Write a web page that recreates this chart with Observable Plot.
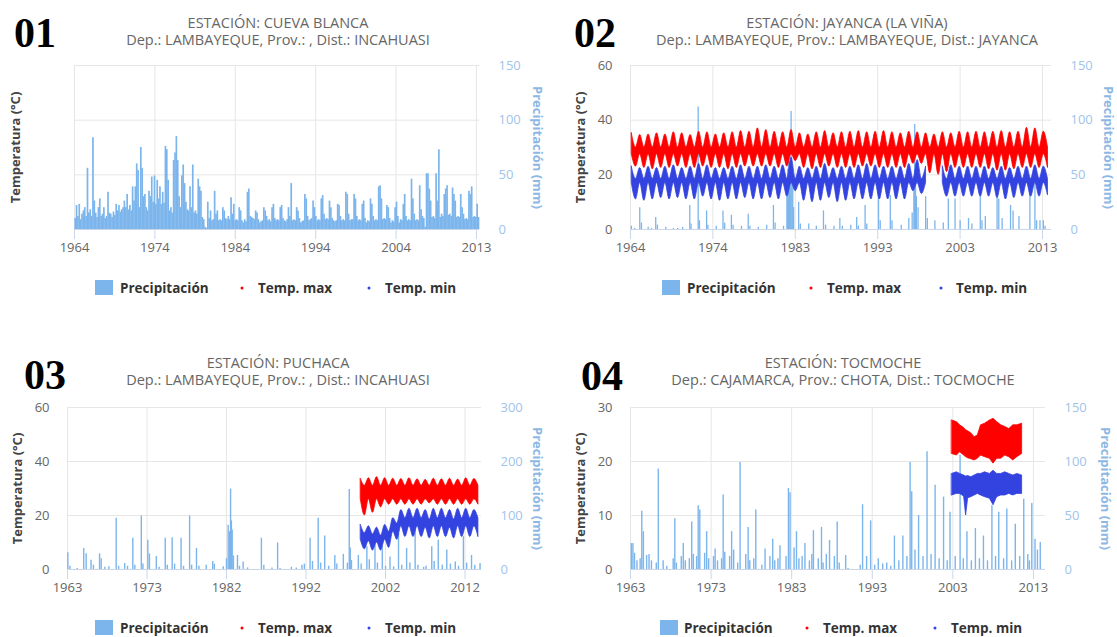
<!DOCTYPE html>
<html><head><meta charset="utf-8">
<script src="https://cdn.jsdelivr.net/npm/d3@7"></script>
<script src="https://cdn.jsdelivr.net/npm/@observablehq/plot@0.6"></script>
<style>
html,body{margin:0;padding:0;background:#fff;}
#root{position:relative;width:1117px;height:637px;overflow:hidden;font-family:"Open Sans",sans-serif;}
</style></head><body><div id="root"></div>
<script>
// ---------- texts ----------
const panelNumbers = ["01","02","03","04"];
const stationTitles = ["ESTACIÓN: CUEVA BLANCA","ESTACIÓN: JAYANCA (LA VIÑA)","ESTACIÓN: PUCHACA","ESTACIÓN: TOCMOCHE"];
const stationSubtitles = ["Dep.: LAMBAYEQUE, Prov.: , Dist.: INCAHUASI","Dep.: LAMBAYEQUE, Prov.: LAMBAYEQUE, Dist.: JAYANCA","Dep.: LAMBAYEQUE, Prov.: , Dist.: INCAHUASI","Dep.: CAJAMARCA, Prov.: CHOTA, Dist.: TOCMOCHE"];
const legendLabels = ["Precipitación","Temp. max","Temp. min"];
const tempTitle = "Temperatura (°C)";
const precipTitle = "Precipitación (mm)";

// ---------- tick labels ----------
const xLabels1 = ["1964","1974","1984","1994","2004","2013"];
const xLabels2 = ["1964","1974","1983","1993","2003","2013"];
const xLabels3 = ["1963","1973","1982","1992","2002","2012"];
const xLabels4 = ["1963","1973","1983","1993","2003","2013"];
const precipTicks1 = [0,50,100,150];
const precipTicks2 = [0,50,100,150];
const precipTicks3 = [0,100,200,300];
const precipTicks4 = [0,50,100,150];
const tempTicks2 = [0,20,40,60];
const tempTicks3 = [0,20,40,60];
const tempTicks4 = [0,10,20,30];

// ---------- 01 CUEVA BLANCA: precipitation, six readings per year from 1964 ----------
const cuevaStartYear = 1964;
const cuevaPrecip = [
[10,22,12,23,9,14],[17,20,12,56,15,18],[12,84,26,15,11,20],[28,12,14,20,10,12],[34,15,14,11,16,13],
[23,17,22,16,18,20],[26,20,32,18,22,17],[39,26,39,60,54,20],[75,56,30,32,20,17],[35,30,48,25,49,23],
[45,28,39,23,34,24],[76,73,45,17,20,15],[63,70,85,63,30,20],[49,59,42,25,18,17],[39,20,59,15,17,14],
[46,39,35,11,9,2],[1,25,10,17,8,9],[35,14,17,8,9,8],[20,17,10,9,12,9],[29,14,23,8,9,8],
[20,17,8,6,9,7],[34,37,12,11,10,9],[17,15,9,6,7,8],[20,17,12,8,9,7],[20,23,10,8,9,8],
[20,22,10,8,7,9],[20,12,42,8,9,8],[20,17,10,6,7,8],[32,28,12,8,9,10],[26,20,12,8,9,8],
[28,31,14,9,10,9],[26,20,10,8,7,8],[23,22,12,8,9,8],[34,32,14,8,9,9],[32,28,12,8,9,8],
[23,26,10,6,8,7],[28,23,12,8,9,8],[39,40,28,9,10,9],[22,20,10,6,8,7],[20,25,12,6,9,8],
[23,32,12,8,9,8],[46,28,14,8,9,8],[40,18,12,10,2,51],[51,37,26,11,12,10],[51,26,73,11,14,12],
[32,37,40,13,14,12],[38,32,26,11,12,11],[32,20,14,9,10,9],[35,32,39,11,12,11],[23,11]
];

// ---------- 02 JAYANCA ----------
const jayancaPrecip = [
[1964.1,3],[1964.5,1],[1965.1,20],[1965.3,6],[1966.1,2],[1966.5,1],[1967.0,11],[1967.2,4],[1968.2,2],[1969.1,1],
[1969.6,1],[1970.2,2],[1971.05,22],[1971.2,5],[1972.05,112],[1972.2,8],[1973.05,17],[1973.2,4],[1974.2,3],[1975.0,17],
[1975.2,6],[1976.0,13],[1976.2,4],[1977.2,3],[1978.0,14],[1978.2,3],[1979.2,2],[1980.2,4],[1981.0,22],[1981.2,6],
[1982.2,3],[1982.6,30],[1982.7,55],[1982.8,65],[1982.9,62],[1983.0,60],[1983.1,108],[1983.2,58],[1983.3,40],[1983.4,20],
[1984.0,25],[1984.2,5],[1985.2,5],[1986.1,3],[1986.95,17],[1987.2,4],[1988.2,3],[1988.9,10],[1989.2,3],[1990.2,4],
[1990.9,11],[1991.1,3],[1991.9,22],[1992.1,5],[1993.5,31],[1993.7,8],[1994.9,31],[1995.1,8],[1996.2,4],[1997.1,10],
[1997.5,15],[1997.7,45],[1997.8,96],[1997.9,60],[1998.0,30],[1998.2,20],[1999.1,30],[1999.3,10],[2000.2,8],[2001.2,6],
[2001.8,28],[2002.6,28],[2003.2,8],[2004.2,10],[2004.6,5],[2005.6,31],[2005.8,8],[2006.2,12],[2007.6,37],[2007.8,28],
[2008.2,10],[2009.2,22],[2009.5,17],[2010.2,12],[2011.5,40],[2012.1,42],[2012.3,8],[2012.7,8],[2013.1,8],[2013.3,3]
];
const jayancaStartYear = 1964;
// per year: summer top of Tmax cloud, winter bottom of Tmax cloud
const jayancaTmaxPeak = [35.2,34.6,34.8,35.2,34.8,35.6,35.2,34.6,35.8,35.6,34.8,35.2,35.6,36,35.8,37,36.4,35.8,35.6,36.4,
35.2,34.8,35.6,36,35.2,35.6,35.8,36,35.6,35.8,36,35.6,35.2,35.8,35.6,35.2,34.8,35.6,35.2,35.8,
35.6,35.8,35.6,35.8,36,35.6,35.8,37.2,37,35.8];
const jayancaTmaxTrough = [23,22.5,22,22.5,22.5,23,22.5,22.5,23,22.5,22.5,22,22.5,23,23,23,23,22.5,23,25,
22.5,22,22.5,23,22.5,22.5,22.5,23,23,22.5,22.5,22.5,22.5,24,24,20.5,20,21,22.5,22.5,
22.5,22.5,22,21.5,21.5,22,22.5,22.5,22.5,22.5];
const jayancaTmaxWinterTop = 30;
const jayancaTmaxSummerBottom = 27.5;
const jayancaTminPeak = [23,22.5,23,22.5,23,23.5,22.5,23,24,23.5,22.5,22.5,23,23.5,23,23,23.5,23,23.5,26.3,
23,22.5,23,24,22.5,23,23,23.5,24,23.5,23,23,23,24,25.4,23,null,23,23.5,23,
23,23,23,22.5,23,22.5,23,23,23.5,23];
const jayancaTminTrough = [11,10.5,11,11.5,11,11.5,11,11,12,11,10.5,11,11,11.5,11,11,11.5,11,12,14,
10.5,10,10.5,11.5,10,10.5,11,11,11,11,11,11,11,14,13,null,null,12,12,12,
12,12,12,11.5,11,11.5,12,12,12,12.5];
const jayancaTminWinterTop = 18.5;
const jayancaTminSummerBottom = 17;

// ---------- 03 PUCHACA ----------
const puchacaPrecip = [
[1963.04,31],[1963.3,6],[1964.2,2],[1965.0,39],[1965.3,29],[1965.9,17],[1966.2,8],[1966.95,29],[1967.15,20],[1967.6,4],
[1968.1,5],[1969.0,95],[1969.3,6],[1970.05,11],[1970.4,6],[1971.05,58],[1971.3,8],[1972.1,99],[1972.3,10],[1972.9,54],
[1973.1,29],[1973.95,24],[1974.3,4],[1975.05,58],[1975.3,8],[1975.9,59],[1976.2,10],[1977.0,58],[1977.3,6],[1978.05,99],
[1978.3,8],[1978.9,39],[1979.2,6],[1980.1,8],[1980.9,15],[1981.1,10],[1982.2,5],[1982.6,20],[1982.8,82],[1982.95,70],
[1983.1,149],[1983.2,90],[1983.3,73],[1983.45,25],[1983.95,26],[1984.2,6],[1984.65,14],[1985.2,3],[1986.9,58],[1987.2,8],
[1988.2,3],[1988.9,49],[1989.2,2],[1990.6,4],[1991.2,3],[1991.9,8],[1992.2,10],[1992.9,58],[1993.2,15],[1993.9,95],
[1994.2,12],[1994.7,62],[1995.2,6],[1995.95,26],[1996.2,10],[1997.0,28],[1997.5,12],[1997.73,148],[1997.85,40],[1998.0,17],
[1998.85,26],[1999.2,10],[1999.9,42],[2000.2,18],[2000.9,54],[2001.2,12],[2001.8,42],[2002.2,6],[2002.75,23],[2003.2,5],
[2003.8,67],[2004.2,8],[2004.8,39],[2005.2,12],[2005.85,79],[2006.2,8],[2006.9,4],[2007.2,6],[2007.9,42],[2008.2,15],
[2008.7,54],[2009.2,8],[2009.75,36],[2010.2,10],[2010.8,14],[2011.2,6],[2011.8,61],[2012.2,12],[2012.8,26],[2013.2,8],[2013.85,11]
];
const puchacaStartYear = 1999;
const puchacaTmaxPeak = [33.5,33.8,34.2,33.8,33.6,33.5,33.8,33.4,33.2,33.6,33.4,33.6,33.3,33.8,33.5];
const puchacaTmaxTrough = [20,21,23,24,24,24,24,24,24.5,24,24,24,24,24,24];
const puchacaTmaxWinterTop = 31;
const puchacaTmaxSummerBottom = 26;
const puchacaTminPeak = [16.5,16,15.5,16.5,19,22,22.5,22.5,22,22.5,22.5,22,22.5,22.5,22];
const puchacaTminTrough = [7.5,7,7,8,11,12,12,12,11.5,12,12,11.5,12,12,12];
const puchacaTminWinterTop = [13.5,13,12.5,14,17,19,19,19,18.5,19,19,18.5,19,19,19];
const puchacaTminSummerBottom = [11,10.5,10,11,14,16,16,16,15.5,16,16,15.5,16,16,16];

// ---------- 04 TOCMOCHE ----------
const tocmochePrecip = [
[1963.1,24],[1963.3,24],[1963.5,15],[1963.8,8],[1964.2,10],[1964.4,54],[1964.6,35],[1965.0,13],[1965.3,14],[1965.6,8],
[1966.2,6],[1966.45,93],[1967.05,8],[1967.5,3],[1968.3,10],[1968.5,47],[1968.7,6],[1969.3,12],[1969.55,24],[1969.8,8],
[1970.3,10],[1970.6,44],[1970.8,14],[1971.2,12],[1971.4,59],[1971.6,55],[1972.2,15],[1972.45,35],[1972.7,10],[1973.3,12],
[1973.5,19],[1973.8,8],[1974.3,10],[1974.5,69],[1974.7,16],[1975.3,12],[1975.55,35],[1975.8,18],[1976.3,6],[1976.6,99],
[1977.3,14],[1977.6,39],[1977.8,8],[1978.3,10],[1978.55,55],[1979.3,4],[1979.7,19],[1980.3,12],[1980.65,28],[1980.9,8],
[1981.3,10],[1981.55,22],[1982.3,12],[1982.6,75],[1982.8,71],[1983.3,20],[1983.6,35],[1983.9,10],[1984.3,12],[1984.65,24],
[1985.2,8],[1985.5,14],[1985.7,36],[1986.3,10],[1986.7,39],[1986.9,6],[1987.3,14],[1987.7,27],[1988.3,12],[1988.65,44],
[1988.9,6],[1989.7,13],[1990.0,1],[1991.5,4],[1991.8,60],[1992.3,12],[1992.8,45],[1993.3,4],[1993.75,10],[1994.3,5],
[1994.8,6],[1995.3,3],[1995.75,31],[1996.3,8],[1996.8,31],[1997.3,12],[1997.7,99],[1997.9,72],[1998.3,18],[1998.75,50],
[1999.3,12],[1999.8,109],[2000.3,14],[2000.8,78],[2001.3,10],[2001.85,67],[2002.3,8],[2002.65,53],[2003.3,12],[2003.9,106],
[2004.3,10],[2004.75,35],[2005.3,8],[2005.8,38],[2006.3,10],[2006.8,31],[2007.3,8],[2007.85,59],[2008.3,12],[2008.7,53],
[2009.3,10],[2009.7,56],[2010.3,8],[2010.75,42],[2011.3,12],[2011.8,65],[2012.3,14],[2012.5,8],[2012.8,61],[2013.2,28],
[2013.5,18],[2013.85,25]
];
const tocmocheTimes  = [2002.9,2003.5,2003.9,2004.4,2004.65,2004.9,2005.3,2005.7,2006.1,2006.5,2007.0,2007.6,2008.05,2008.5,2009.0,2009.5,2010.0,2010.5,2011.0,2011.6];
const tocmocheTmaxHi = [27.6,27.3,26.7,26.2,25.8,25.6,25.2,24.5,24.8,26.7,27.0,27.6,27.9,27.3,26.7,26.4,26.0,26.7,26.7,27.0];
const tocmocheTmaxLo = [21.4,21.1,21.7,21.1,20.8,20.6,20.4,20.2,20.5,21.1,20.8,20.5,19.6,20.5,20.5,21.1,20.8,20.2,20.8,21.4];
const tocmocheTminHi = [17.7,18.0,17.7,17.4,17.2,17.3,17.1,17.4,17.7,17.7,18.0,17.7,18.3,17.7,17.7,18.0,17.7,17.4,17.7,17.4];
const tocmocheTminLo = [13.7,14.0,14.0,13.5,10.0,13.2,13.4,13.7,14.0,13.7,13.4,13.1,11.9,13.4,13.7,13.7,14.0,13.7,14.0,14.0];

// ---------- helpers ----------
const pick = (a, i) => Array.isArray(a) ? a[i] : a;
function seasonalBand(startYear, peak, trough, winterTop, summerBottom) {
  const out = [];
  peak.forEach((p, i) => {
    const y = startYear + i, tr = trough[i];
    out.push({t: y + 0.15, hi: p == null ? NaN : p, lo: p == null ? NaN : pick(summerBottom, i)});
    out.push({t: y + 0.65, hi: tr == null ? NaN : pick(winterTop, i), lo: tr == null ? NaN : tr});
  });
  return out;
}
const explicitBand = (times, hi, lo) => times.map((t, i) => ({t, hi: hi[i], lo: lo[i]}));

const cuevaRows = [];
cuevaPrecip.forEach((vals, i) => vals.forEach((v, j) => cuevaRows.push([cuevaStartYear + i + (j + 0.5) / 6, v])));

const C = {precip: "#7cb5ec", red: "#ff0000", blue: "#3343e0", pLabel: "#9fc4ea", pTitle: "#8db8e4", grid: "#e6e6e6", axis: "#ccd6eb"};

const panels = [
  {left:0, top:0, width:558, height:300, mL:74, mR:79, mT:65, mB:71, x0:1964, x1:2013.37, tFirst:1964, tLast:2013,
   xLabels:xLabels1, yMax:150, pMax:150, pTicks:precipTicks1, tTicks:null, tDx:59, pDx:58,
   precip:cuevaRows, barW:1.7, tmax:null, tmin:null, curve:"monotone-x"},
  {left:558, top:0, width:559, height:300, mL:72, mR:66, mT:65, mB:71, x0:1964, x1:2014.07, tFirst:1964, tLast:2013,
   xLabels:xLabels2, yMax:60, pMax:150, pTicks:precipTicks2, tTicks:tempTicks2, tDx:50, pDx:57,
   precip:jayancaPrecip, barW:1.3,
   tmax:seasonalBand(jayancaStartYear, jayancaTmaxPeak, jayancaTmaxTrough, jayancaTmaxWinterTop, jayancaTmaxSummerBottom),
   tmin:seasonalBand(jayancaStartYear, jayancaTminPeak, jayancaTminTrough, jayancaTminWinterTop, jayancaTminSummerBottom),
   curve:"monotone-x"},
  {left:0, top:340, width:558, height:297, mL:67, mR:77, mT:67, mB:68, x0:1963, x1:2014.03, tFirst:1963, tLast:2012,
   xLabels:xLabels3, yMax:60, pMax:300, pTicks:precipTicks3, tTicks:tempTicks3, tDx:50, pDx:56,
   precip:puchacaPrecip, barW:1.4,
   tmax:seasonalBand(puchacaStartYear, puchacaTmaxPeak, puchacaTmaxTrough, puchacaTmaxWinterTop, puchacaTmaxSummerBottom),
   tmin:seasonalBand(puchacaStartYear, puchacaTminPeak, puchacaTminTrough, puchacaTminWinterTop, puchacaTminSummerBottom),
   curve:"monotone-x"},
  {left:558, top:340, width:559, height:297, mL:72, mR:72, mT:67, mB:68, x0:1963, x1:2014.5, tFirst:1963, tLast:2013,
   xLabels:xLabels4, yMax:30, pMax:150, pTicks:precipTicks4, tTicks:tempTicks4, tDx:50, pDx:60,
   precip:tocmochePrecip, barW:1.4,
   tmax:explicitBand(tocmocheTimes, tocmocheTmaxHi, tocmocheTmaxLo),
   tmin:explicitBand(tocmocheTimes, tocmocheTminHi, tocmocheTminLo),
   curve:"linear"}
];

const root = document.getElementById("root");
for (const p of panels) {
  const k = p.yMax / p.pMax;
  const n = p.xLabels.length;
  const xTicks = p.xLabels.map((_, i) => p.tFirst + i * (p.tLast - p.tFirst) / (n - 1));
  const xLabelOf = new Map(xTicks.map((t, i) => [t, p.xLabels[i]]));
  const yTicks = p.pTicks.map(v => v * k);
  const pLabelOf = new Map(yTicks.map((t, i) => [t, String(p.pTicks[i])]));
  const marks = [
    Plot.ruleY(yTicks, {stroke: C.grid, strokeWidth: 1}),
    Plot.ruleX(xTicks, {stroke: C.grid, strokeWidth: 1}),
    Plot.ruleX(p.precip, {x: d => d[0], y1: 0, y2: d => d[1] * k, stroke: C.precip, strokeWidth: p.barW})
  ];
  if (p.tmax) marks.push(Plot.areaY(p.tmax, {x: "t", y1: "lo", y2: "hi", fill: C.red, stroke: C.red, strokeWidth: 0.8, curve: p.curve}));
  if (p.tmin) marks.push(Plot.areaY(p.tmin, {x: "t", y1: "lo", y2: "hi", fill: C.blue, stroke: C.blue, strokeWidth: 0.8, curve: p.curve}));
  marks.push(
    Plot.ruleY([0], {stroke: C.axis, strokeWidth: 1}),
    Plot.axisX({ticks: xTicks, tickFormat: d => xLabelOf.get(d), tickSize: 10, tickPadding: 3, stroke: C.axis, fill: "#666", label: null, fontSize: 13}),
    Plot.axisY({anchor: "right", ticks: yTicks, tickFormat: d => pLabelOf.get(d), tickSize: 0, tickPadding: 19, fill: C.pLabel, label: null, fontSize: 13}),
    Plot.text([tempTitle], {frameAnchor: "left", dx: -p.tDx, rotate: -90, fill: "#444", fontWeight: "bold", fontSize: 13, textAnchor: "middle"}),
    Plot.text([precipTitle], {frameAnchor: "right", dx: p.pDx, rotate: 90, fill: C.pTitle, fontWeight: "bold", fontSize: 13, textAnchor: "middle"})
  );
  if (p.tTicks) marks.push(Plot.axisY({anchor: "left", ticks: p.tTicks, tickSize: 0, tickPadding: 18, fill: "#666", label: null, fontSize: 13}));
  const svg = Plot.plot({
    width: p.width, height: p.height,
    marginLeft: p.mL, marginRight: p.mR, marginTop: p.mT, marginBottom: p.mB,
    x: {domain: [p.x0, p.x1]},
    y: {domain: [0, p.yMax]},
    style: {background: "transparent", fontFamily: "'Open Sans', sans-serif", fontSize: "13px", overflow: "visible"},
    marks
  });
  svg.style.position = "absolute";
  svg.style.left = p.left + "px";
  svg.style.top = p.top + "px";
  root.appendChild(svg);
}

// ---------- overlay: numbers, titles, legends ----------
const overlayLayout = [
  {numX:14, numY:47, cx:278, ty:22, leg:{y:288, sw:95, t1:120, d1:242, t2:258, d2:369, t3:385}},
  {numX:574, numY:47, cx:847, ty:22, leg:{y:288, sw:662, t1:687, d1:811, t2:827, d2:941, t3:956}},
  {numX:24, numY:389, cx:278, ty:362, leg:{y:628, sw:95, t1:120, d1:242, t2:258, d2:369, t3:385}},
  {numX:581, numY:390, cx:843, ty:362, leg:{y:628, sw:660, t1:684, d1:807, t2:823, d2:935, t3:951}}
];
const ov = d3.create("svg").attr("width", 1117).attr("height", 637)
  .style("position", "absolute").style("left", "0px").style("top", "0px");
overlayLayout.forEach((L, i) => {
  ov.append("text").attr("x", L.numX).attr("y", L.numY).text(panelNumbers[i])
    .attr("font-family", "'Liberation Serif', serif").attr("font-weight", "bold").attr("font-size", 42).attr("fill", "#000");
  ov.append("text").attr("x", L.cx).attr("y", L.ty).attr("text-anchor", "middle").attr("dominant-baseline", "central")
    .attr("font-family", "'Open Sans', sans-serif").attr("font-size", 14.5).attr("fill", "#666").text(stationTitles[i]);
  ov.append("text").attr("x", L.cx).attr("y", L.ty + 17).attr("text-anchor", "middle").attr("dominant-baseline", "central")
    .attr("font-family", "'Open Sans', sans-serif").attr("font-size", 14.5).attr("fill", "#666").text(stationSubtitles[i]);
  const g = ov.append("g").attr("font-family", "'Open Sans', sans-serif").attr("font-size", 13.5).attr("font-weight", "bold").attr("fill", "#333");
  const lg = L.leg;
  g.append("rect").attr("x", lg.sw).attr("y", lg.y - 8).attr("width", 18).attr("height", 15).attr("fill", C.precip);
  g.append("text").attr("x", lg.t1).attr("y", lg.y).attr("dominant-baseline", "central").text(legendLabels[0]);
  g.append("circle").attr("cx", lg.d1).attr("cy", lg.y).attr("r", 1.5).attr("fill", C.red);
  g.append("text").attr("x", lg.t2).attr("y", lg.y).attr("dominant-baseline", "central").text(legendLabels[1]);
  g.append("circle").attr("cx", lg.d2).attr("cy", lg.y).attr("r", 1.5).attr("fill", C.blue);
  g.append("text").attr("x", lg.t3).attr("y", lg.y).attr("dominant-baseline", "central").text(legendLabels[2]);
});
root.appendChild(ov.node());
</script></body></html>
